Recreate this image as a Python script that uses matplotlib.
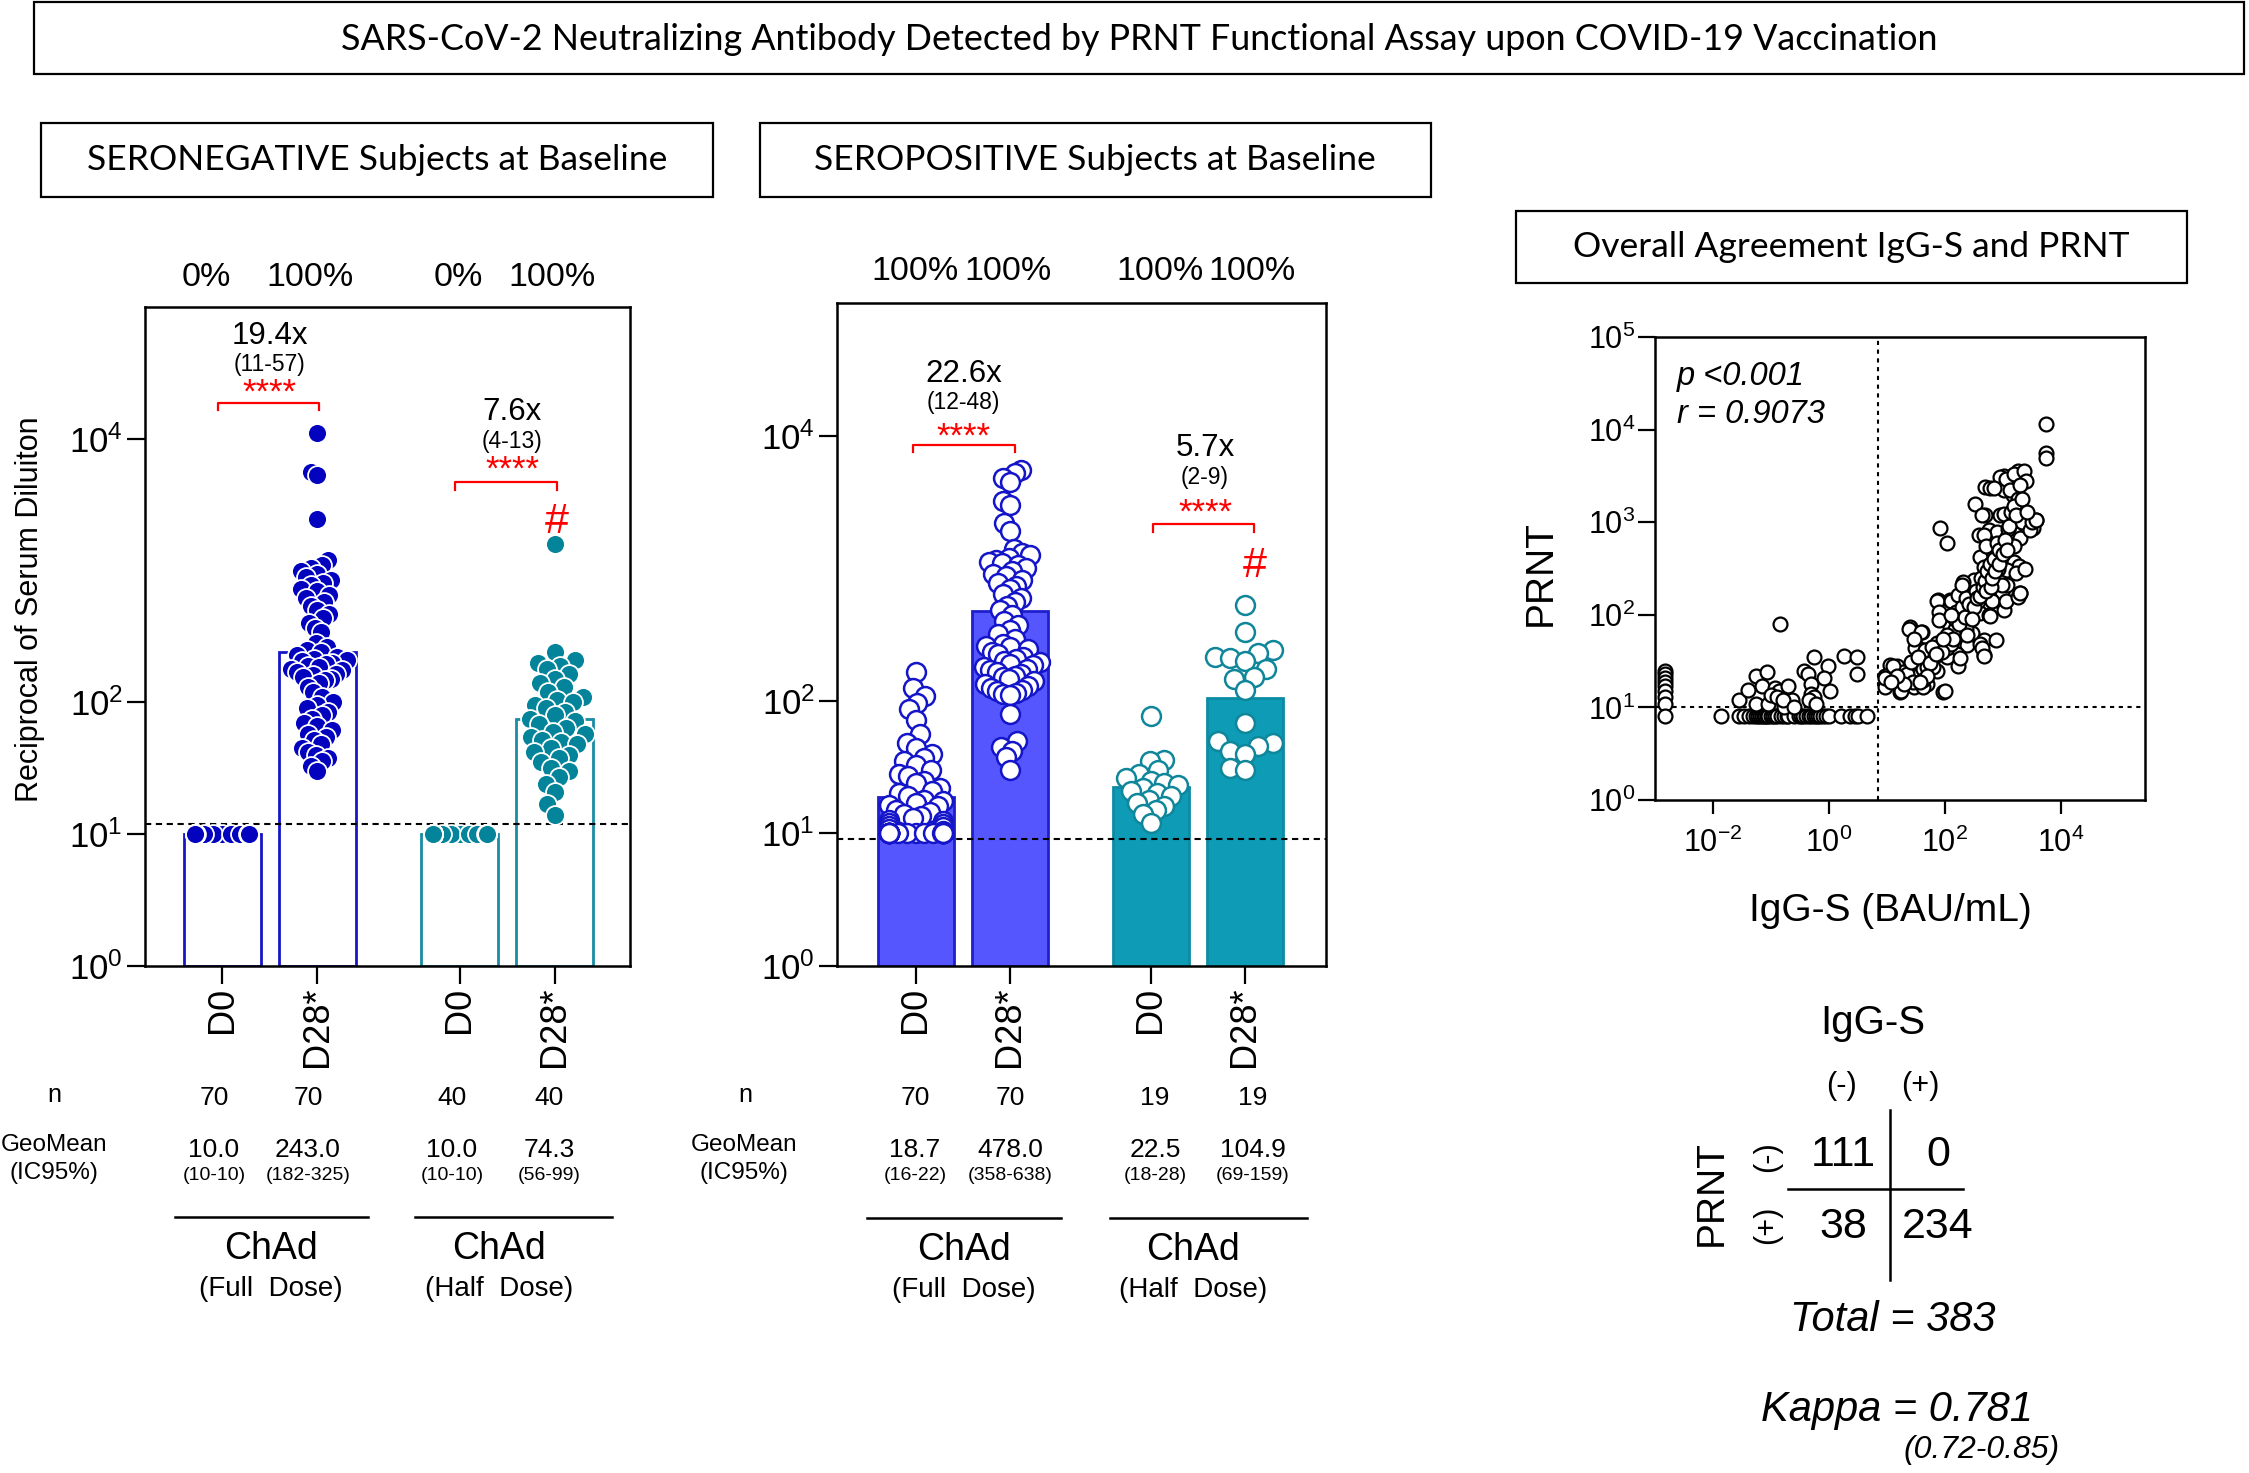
import numpy as np
import matplotlib
matplotlib.use("Agg")
import matplotlib.pyplot as plt
from matplotlib import font_manager as fm
from matplotlib.patches import Rectangle
from matplotlib.lines import Line2D
import matplotlib.transforms as mtransforms
from matplotlib.ticker import FixedLocator, NullLocator, FuncFormatter

_names = {f.name for f in fm.fontManager.ttflist}
SANS = "Liberation Sans" if "Liberation Sans" in _names else "DejaVu Sans"
HEAD = "Lato" if "Lato" in _names else SANS
plt.rcParams["font.family"] = [SANS, "DejaVu Sans"]
plt.rcParams["mathtext.fontset"] = "custom"
plt.rcParams["mathtext.rm"] = SANS
plt.rcParams["mathtext.it"] = SANS + ":italic"
plt.rcParams["mathtext.default"] = "regular"

# ------------------------------------------------------------------ data
TITLE = "SARS-CoV-2 Neutralizing Antibody Detected by PRNT Functional Assay upon COVID-19 Vaccination"
PANEL_TITLES = ["SERONEGATIVE Subjects at Baseline", "SEROPOSITIVE Subjects at Baseline",
                "Overall Agreement IgG-S and PRNT"]
GROUP_LABELS = ["D0", "D28*", "D0", "D28*"]
DOSE_LABELS = ["ChAd", "ChAd"]
DOSE_SUBS = ["(Full  Dose)", "(Half  Dose)"]

# Seronegative panel
neg_pct = ["0%", "100%", "0%", "100%"]
neg_n = [70, 70, 40, 40]
neg_gm = [10.0, 243.0, 10.0, 74.3]
neg_ci = ["(10-10)", "(182-325)", "(10-10)", "(56-99)"]
neg_fold = ["19.4x", "7.6x"]
neg_fold_ci = ["(11-57)", "(4-13)"]
neg_threshold = 12
neg_full_d0 = [10.0] * 70
neg_full_d28 = [11000, 5600, 5300, 2450,
                1200, 1100, 1050, 1000, 950, 900, 850, 800, 780, 720, 700, 650, 620, 580, 540, 500,
                470, 440, 400, 370, 340,
                280, 265, 250, 240, 230, 220, 215, 210, 205, 200, 195, 190, 185, 180, 175, 170, 165,
                160, 155, 150, 148,
                140, 130, 120, 110, 100, 95, 90, 85, 80, 75, 70, 66, 62, 58, 55, 52, 48, 45, 42, 40,
                38, 36, 33, 30]
neg_half_d0 = [10.0] * 40
neg_half_d28 = [1600, 240, 210, 200, 190, 180, 165, 150, 140, 130,
                120, 110, 105, 100, 95, 90, 85, 80, 75, 72,
                68, 64, 60, 58, 55, 52, 50, 48, 45, 42,
                40, 38, 35, 32, 30, 27, 24, 21, 17, 14]

# Seropositive panel
pos_pct = ["100%", "100%", "100%", "100%"]
pos_n = [70, 70, 19, 19]
pos_gm = [18.7, 478.0, 22.5, 104.9]
pos_ci = ["(16-22)", "(358-638)", "(18-28)", "(69-159)"]
pos_fold = ["22.6x", "5.7x"]
pos_fold_ci = ["(12-48)", "(2-9)"]
pos_threshold = 9
pos_full_d0 = [166, 124, 109, 97, 86, 72, 56, 48, 44, 40,
               37, 35, 33, 30, 28, 27, 25, 24, 22, 21,
               20, 19, 18, 17.5, 17, 16.5, 16, 15, 14.5, 14,
               13.5, 13, 12.7, 12.3, 12, 11.7, 11.4, 11.1, 10.8, 10.5] + [10.0] * 30
pos_full_d28 = [5500, 5200, 4800, 4500, 3200, 3000, 2200, 1900, 1400,
                1300, 1250, 1200, 1150, 1120, 1100, 1050, 1000, 950, 900, 880, 820, 780, 740, 700,
                640, 600, 560, 520, 480, 440, 400, 370, 340, 320,
                290, 270, 260, 255, 245, 235, 225, 215, 205, 200, 195, 190, 185, 180, 175, 170, 165,
                160, 155, 150, 145, 140, 135, 130, 125, 120, 118, 115, 112, 110,
                80, 50, 45, 42, 38, 30]
pos_half_d0 = [77, 36, 35, 30, 28, 26, 25, 24, 23, 22, 21, 20, 19, 18, 17, 16, 15, 14, 12]
pos_half_d28 = [530, 330, 240, 230, 215, 210, 200, 175, 150, 145, 120, 68, 50, 48, 46, 42, 40, 31, 30]

# Agreement scatter: IgG-S (BAU/mL) vs PRNT
igg_cut = 7.0
prnt_cut = 10.0
scat_col_y = [25, 23, 21, 19, 17, 15, 13, 11, 8]          # column at lowest IgG-S
scat_col_x = [0.0015] * len(scat_col_y)
scat_row_x = [0.014, 0.028, 0.035, 0.042, 0.05, 0.055, 0.06, 0.065, 0.07, 0.075,
              0.08, 0.085, 0.09, 0.1, 0.11, 0.12, 0.13, 0.15, 0.17, 0.19,
              0.2, 0.25, 0.3, 0.33, 0.36, 0.4, 0.45, 0.5, 0.55, 0.6,
              0.65, 0.7, 0.8, 0.9, 1.0, 1.6, 2.3, 2.8, 3.2, 4.5]  # PRNT negative row
scat_row_y = [8] * len(scat_row_x)
scat_neg_pts = [(0.028, 12), (0.041, 15.6), (0.056, 22), (0.087, 24), (0.07, 17), (0.056, 11),
                (0.12, 16.3), (0.14, 15), (0.2, 17), (0.23, 12), (0.37, 25), (0.44, 23), (0.5, 18),
                (0.5, 14), (0.55, 13), (0.55, 35), (0.95, 28), (0.82, 21), (1.03, 15), (1.8, 36),
                (3.1, 35), (3.1, 23), (0.145, 79), (0.09, 11), (0.17, 10), (0.1, 13.5), (0.13, 13),
                (0.16, 12), (0.25, 10), (0.45, 12), (0.6, 11)]
scat_pos_pts = [(5680, 11500), (5680, 5550), (5700, 4900), (1840, 3600), (1040, 3150), (2370, 2860),
                (908, 3100), (1350, 2420), (1040, 2230), (1500, 1970), (500, 2380), (610, 2320),
                (336, 1570), (500, 1195), (908, 1195), (1545, 1100), (2010, 1150), (2630, 1057),
                (3770, 1057), (3340, 860), (384, 728), (571, 824), (796, 791), (1186, 698),
                (1545, 759), (2010, 670), (83, 873), (111, 592), (535, 557), (410, 424), (796, 424),
                (1545, 374), (1890, 339), (1186, 305), (469, 331), (315, 238), (211, 228), (571, 201),
                (410, 185), (697, 144), (973, 178), (1963, 171), (1186, 210), (78, 144), (124, 144),
                (197, 171), (275, 113), (173, 113), (83, 92), (410, 104), (571, 100), (1040, 113),
                (124, 74), (25, 73), (40, 66), (73, 49), (124, 45), (197, 69), (294, 63), (469, 54),
                (241, 47), (469, 37), (162, 38), (46, 42), (33, 45), (29, 30), (43, 26), (73, 25),
                (109, 35), (173, 28), (11.4, 29), (14.8, 28), (9.3, 22), (23.5, 20), (19.3, 24),
                (49, 18), (17, 14.8), (9.3, 16.7), (29, 16.7), (95, 14.8), (43, 16.7),
                (9.5, 21), (13, 28), (17.7, 15), (22.5, 23), (24, 71), (26, 31), (28, 19), (31, 44),
                (39, 65), (42, 20), (45, 42), (49, 27), (62, 27), (67, 36), (73, 142), (79, 106),
                (79, 87), (100, 15), (108, 44), (127, 48), (127, 142), (148, 71), (160, 106),
                (172, 164), (187, 34), (203, 210), (237, 71), (255, 117), (276, 96), (300, 164),
                (380, 142), (410, 48), (440, 44), (480, 36), (560, 257), (600, 96), (650, 142),
                (770, 53), (820, 312), (960, 210), (1130, 142), (1690, 280), (1820, 155), (1970, 173),
                (2480, 310), (440, 1190), (480, 720), (520, 560), (700, 2340), (1050, 1230),
                (1130, 2950), (1220, 840), (1320, 2220), (1560, 560), (1560, 3300), (1820, 1800),
                (2130, 1010), (2300, 3600), (2940, 830), (3170, 1010), (3710, 1060), (2500, 2800),
                (35, 35), (55, 30), (60, 45), (90, 40), (110, 60), (140, 55), (150, 90), (180, 80),
                (200, 120), (220, 95), (230, 150), (260, 130), (320, 120), (350, 180), (360, 150),
                (400, 160), (420, 250), (450, 200), (500, 230), (520, 180), (540, 300), (600, 350),
                (620, 200), (650, 250), (700, 400), (750, 300), (800, 600), (850, 500), (880, 350),
                (1000, 450), (1100, 650), (1200, 500), (1300, 900), (1400, 1300), (1600, 1500),
                (1700, 1200), (2000, 2500), (2200, 1800), (2600, 1300), (300, 90), (240, 60),
                (130, 100), (95, 55), (70, 38), (50, 22), (38, 19), (20, 18), (15, 22), (12, 19),
                (30, 55)]
stats_text = ["p <0.001", "r = 0.9073"]

# 2x2 agreement table
table_cols = ["(-)", "(+)"]
table_rows = ["(-)", "(+)"]
table_counts = [[111, 0], [38, 234]]
total_text = "Total = 383"
kappa_text = "Kappa = 0.781"
kappa_ci = "(0.72-0.85)"

# ------------------------------------------------------------------ layout helpers
W, H = 2249, 1473
fig = plt.figure(figsize=(W / 100, H / 100), dpi=100)
fig.patch.set_facecolor("white")


def add_ax(l, t, r, b):
    return fig.add_axes([l / W, 1 - b / H, (r - l) / W, (b - t) / H])


def T(x, y, s, size, ha="center", va="center", **kw):
    return fig.text(x / W, 1 - y / H, s, fontsize=size, ha=ha, va=va, **kw)


def box(l, t, r, b, lw=1.6):
    fig.add_artist(Rectangle((l / W, 1 - b / H), (r - l) / W, (b - t) / H,
                             transform=fig.transFigure, fill=False, lw=lw, ec="black"))


def hline(x0, x1, y, lw=1.8):
    fig.add_artist(Line2D([x0 / W, x1 / W], [1 - y / H, 1 - y / H], transform=fig.transFigure,
                          color="black", lw=lw))


def vline(x, y0, y1, lw=1.8):
    fig.add_artist(Line2D([x / W, x / W], [1 - y0 / H, 1 - y1 / H], transform=fig.transFigure,
                          color="black", lw=lw))


def swarm(ax, xc, vals, diam, cap, fmin=0.0):
    vals = np.asarray(vals, float)
    ypix = ax.transData.transform(np.column_stack([np.full(len(vals), xc), vals]))[:, 1]
    order = np.argsort(ypix, kind="stable")
    px, py = [], []
    off = np.zeros(len(vals))
    for i in order:
        y = ypix[i]
        pa, pb = np.array(px), np.array(py)
        cands = [0.0]
        if len(px):
            dy = y - pb
            m = np.abs(dy) < diam
            dx = np.sqrt(np.maximum(diam ** 2 - dy[m] ** 2, 0))
            cands += list(pa[m] - dx) + list(pa[m] + dx)
        cands = sorted(cands, key=lambda c: (abs(c), c))
        chosen = cands[0]
        for c in cands:
            if len(px) == 0 or np.all((c - pa) ** 2 + (y - pb) ** 2 >= diam ** 2 - 1e-6):
                chosen = c
                break
        off[i] = chosen
        px.append(chosen)
        py.append(y)
    mx = np.abs(off).max()
    if mx > cap:
        f = max(cap / mx, fmin)
        off = np.clip(off * f, -cap, cap)
    x0 = ax.transData.transform((0, 1))[0]
    x1 = ax.transData.transform((1, 1))[0]
    return xc + off / (x1 - x0)


def logfmt(v, pos):
    return r"$10^{%d}$" % int(round(np.log10(v)))


XPOS = [0, 1, 2.5, 3.5]
BAR_W = 0.81
FMIN = [0.55, 0.0, 0.55, 0.0]
CAPS = [27, 30, 27, 30]

# ------------------------------------------------------------------ header boxes
box(34, 2, 2244, 74)
T(1139, 39, TITLE, 25.8, family=HEAD)
box(41, 123, 713, 197)
T(377, 160, PANEL_TITLES[0], 25.5, family=HEAD)
box(760, 123, 1431, 197)
T(1095, 160, PANEL_TITLES[1], 25.5, family=HEAD)
box(1516, 211, 2187, 283)
T(1851, 247, PANEL_TITLES[2], 25.5, family=HEAD)


def style_bar_axes(ax, xlim):
    ax.set_yscale("log")
    ax.set_ylim(1, 1e5)
    ax.set_xlim(*xlim)
    for s in ax.spines.values():
        s.set_linewidth(1.8)
    ax.yaxis.set_major_locator(FixedLocator([1, 10, 100, 1e4]))
    ax.yaxis.set_minor_locator(NullLocator())
    ax.yaxis.set_major_formatter(FuncFormatter(logfmt))
    ax.set_xticks(XPOS)
    ax.set_xticklabels(GROUP_LABELS, rotation=90, va="top", ha="center", fontsize=26)
    ax.tick_params(axis="y", length=13, width=1.6, labelsize=25, pad=3)
    ax.tick_params(axis="x", length=13, width=1.6, pad=2)


def annotate_pair(ax, xc, fold, fold_ci, y_fold, y_ci, y_star, y_br, x0, x1, y_leg):
    tr = mtransforms.blended_transform_factory(ax.transData, ax.transAxes)
    ax.text(xc, y_fold, fold, transform=tr, ha="center", va="center", fontsize=22.5)
    ax.text(xc, y_ci, fold_ci, transform=tr, ha="center", va="center", fontsize=16.5)
    ax.text(xc, y_star - 0.008, "****", transform=tr, ha="center", va="center", fontsize=25,
            color="red")
    ax.plot([x0, x0, x1, x1], [y_leg, y_br, y_br, y_leg], transform=tr, color="red", lw=1.6,
            clip_on=False)


# ------------------------------------------------------------------ seronegative panel
BLUE_DARK = "#0303BF"
TEAL_DARK = "#04849A"
BLUE_EDGE = "#1616C6"
TEAL_EDGE = "#1A8CA3"

ax1 = add_ax(145, 307, 630, 966)
style_bar_axes(ax1, (-0.81, 4.29))
neg_groups = [neg_full_d0, neg_full_d28, neg_half_d0, neg_half_d28]
neg_fill = [BLUE_DARK, BLUE_DARK, TEAL_DARK, TEAL_DARK]
neg_edge = [BLUE_EDGE, BLUE_EDGE, TEAL_EDGE, TEAL_EDGE]
for xp, g, fc, ec in zip(XPOS, neg_gm, neg_fill, neg_edge):
    ax1.bar(xp, g - 1, bottom=1, width=BAR_W, facecolor="white", edgecolor=ec, lw=2.0, zorder=1)
ax1.axhline(neg_threshold, color="black", ls=(0, (3, 2.2)), lw=1.5, zorder=2)
for xp, vals, fc, fmn, cp in zip(XPOS, neg_groups, neg_fill, FMIN, CAPS):
    xs = swarm(ax1, xp, vals, 16.0, cp, fmn)
    ax1.scatter(xs, vals, s=185, facecolor=fc, edgecolor="white", lw=1.3, zorder=3, clip_on=False)
annotate_pair(ax1, 0.5, neg_fold[0], neg_fold_ci[0], 0.956, 0.913, 0.877, 0.855, -0.04, 1.02, 0.843)
annotate_pair(ax1, 3.05, neg_fold[1], neg_fold_ci[1], 0.840, 0.796, 0.761, 0.735, 2.45, 3.52, 0.723)
ax1.text(3.52, 0.674, "#", transform=mtransforms.blended_transform_factory(ax1.transData, ax1.transAxes),
         ha="center", va="center", fontsize=31, color="red")
T(30, 609, "Reciprocal of Serum Diluiton", 22, rotation=90)

# percentages above
for x, s in zip([206, 310, 458, 552], neg_pct):
    T(x, 278, s, 24.5)

# table under left panel
T(54, 1095, "n", 18)
T(54, 1145, "GeoMean", 17.5)
T(54, 1173, "(IC95%)", 17.5)
for x, n, g, ci in zip([214, 308, 452, 549], neg_n, neg_gm, neg_ci):
    T(x, 1098, str(n), 19)
    T(x, 1150, "%.1f" % g, 19)
    T(x, 1176, ci, 14)
hline(175, 368, 1217)
hline(415, 612, 1217)
for x, lab, sub in zip([271, 499], DOSE_LABELS, DOSE_SUBS):
    T(x, 1249, lab, 27)
    T(x, 1289, sub, 20)

# ------------------------------------------------------------------ seropositive panel
BLUE_BAR = "#5656FF"
BLUE_BAR_EDGE = "#1E1ECC"
TEAL_BAR = "#0D9BB5"
TEAL_BAR_EDGE = "#0C8CA4"
BLUE_PT = "#1414C8"
TEAL_PT = "#10869B"

ax2 = add_ax(837, 303, 1326, 966)
style_bar_axes(ax2, (-0.836, 4.366))
pos_groups = [pos_full_d0, pos_full_d28, pos_half_d0, pos_half_d28]
pos_face = [BLUE_BAR, BLUE_BAR, TEAL_BAR, TEAL_BAR]
pos_bedge = [BLUE_BAR_EDGE, BLUE_BAR_EDGE, TEAL_BAR_EDGE, TEAL_BAR_EDGE]
pos_pedge = [BLUE_PT, BLUE_PT, TEAL_PT, TEAL_PT]
for xp, g, fc, ec in zip(XPOS, pos_gm, pos_face, pos_bedge):
    ax2.bar(xp, g - 1, bottom=1, width=BAR_W, facecolor=fc, edgecolor=ec, lw=2.0, zorder=1)
ax2.axhline(pos_threshold, color="black", ls=(0, (3, 2.2)), lw=1.5, zorder=2)
for xp, vals, ec, fmn, cp in zip(XPOS, pos_groups, pos_pedge, FMIN, CAPS):
    xs = swarm(ax2, xp, vals, 16.0, cp, fmn)
    ax2.scatter(xs, vals, s=185, facecolor="white", edgecolor=ec, lw=1.8, zorder=3, clip_on=False)
annotate_pair(ax2, 0.51, pos_fold[0], pos_fold_ci[0], 0.893, 0.850, 0.806, 0.786, -0.03, 1.06, 0.775)
annotate_pair(ax2, 3.08, pos_fold[1], pos_fold_ci[1], 0.782, 0.737, 0.691, 0.666, 2.53, 3.6, 0.655)
ax2.text(3.61, 0.604, "#", transform=mtransforms.blended_transform_factory(ax2.transData, ax2.transAxes),
         ha="center", va="center", fontsize=31, color="red")

for x, s in zip([915, 1008, 1160, 1252], pos_pct):
    T(x, 271, s, 24.5)

T(745, 1095, "n", 18)
T(744, 1145, "GeoMean", 17.5)
T(744, 1173, "(IC95%)", 17.5)
for x, n, g, ci in zip([915, 1010, 1155, 1253], pos_n, pos_gm, pos_ci):
    T(x, 1098, str(n), 19)
    T(x, 1150, "%.1f" % g, 19)
    T(x, 1176, ci, 14)
hline(867, 1061, 1218)
hline(1110, 1307, 1218)
for x, lab, sub in zip([964, 1193], DOSE_LABELS, DOSE_SUBS):
    T(x, 1250, lab, 27)
    T(x, 1290, sub, 20)

# ------------------------------------------------------------------ agreement scatter
ax3 = add_ax(1655, 337, 2145, 800)
ax3.set_xscale("log")
ax3.set_yscale("log")
ax3.set_xlim(1e-3, 2.87e5)
ax3.set_ylim(1, 1e5)
for s in ax3.spines.values():
    s.set_linewidth(1.8)
ax3.xaxis.set_major_locator(FixedLocator([1e-2, 1, 1e2, 1e4]))
ax3.yaxis.set_major_locator(FixedLocator([1, 10, 100, 1e3, 1e4, 1e5]))
ax3.xaxis.set_minor_locator(NullLocator())
ax3.yaxis.set_minor_locator(NullLocator())
ax3.xaxis.set_major_formatter(FuncFormatter(logfmt))
ax3.yaxis.set_major_formatter(FuncFormatter(logfmt))
ax3.tick_params(axis="y", length=12, width=1.6, labelsize=22, pad=2)
ax3.tick_params(axis="x", length=10, width=1.6, labelsize=22, pad=10)
ax3.axvline(igg_cut, color="black", ls=(0, (2, 2.2)), lw=1.5, zorder=1)
ax3.axhline(prnt_cut, color="black", ls=(0, (2, 2.2)), lw=1.5, zorder=1)
sx = scat_col_x + scat_row_x + [p[0] for p in scat_neg_pts] + [p[0] for p in scat_pos_pts]
sy = scat_col_y + scat_row_y + [p[1] for p in scat_neg_pts] + [p[1] for p in scat_pos_pts]
ax3.scatter(sx, sy, s=100, facecolor="white", edgecolor="black", lw=1.6, zorder=3)
ax3.text(0.045, 0.915, stats_text[0], transform=ax3.transAxes, fontsize=23.5, style="italic",
         ha="left", va="center")
ax3.text(0.045, 0.833, stats_text[1], transform=ax3.transAxes, fontsize=23.5, style="italic",
         ha="left", va="center")
T(1541, 573, "PRNT", 28, rotation=90)
T(1890, 911, "IgG-S (BAU/mL)", 28)

# ------------------------------------------------------------------ 2x2 table
T(1873, 1023, "IgG-S", 29)
T(1842, 1086, table_cols[0], 22)
T(1920, 1086, table_cols[1], 22)
T(1712, 1193, "PRNT", 28, rotation=90)
T(1767, 1157, table_rows[0], 22, rotation=90)
T(1767, 1225, table_rows[1], 22, rotation=90)
for r, yy in enumerate([1155, 1227]):
    for c, xx in enumerate([1843, 1938]):
        T(xx, yy, str(table_counts[r][c]), 31)
vline(1890, 1110, 1280)
hline(1788, 1963, 1189)
T(1893, 1320, total_text, 30, style="italic")
T(1897, 1410, kappa_text, 30, style="italic")
T(1982, 1450, kappa_ci, 23, style="italic")

fig.savefig("out.png", dpi=100, facecolor="white")
